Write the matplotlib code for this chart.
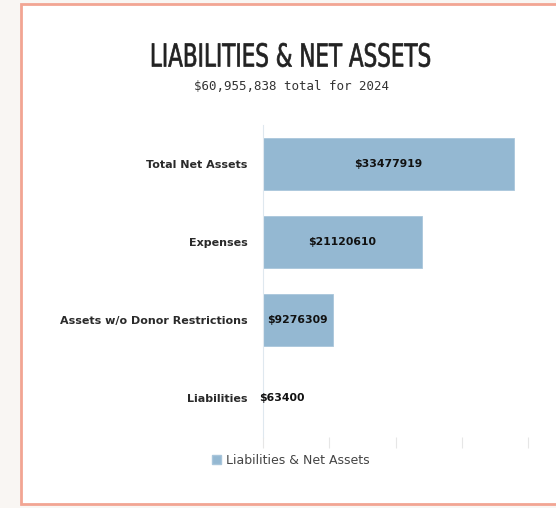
import matplotlib.pyplot as plt
from matplotlib.patches import Rectangle, Patch, PathPatch
from matplotlib.textpath import TextPath
from matplotlib.font_manager import FontProperties
from matplotlib.transforms import Affine2D

# donnees
categories = ["Total Net Assets", "Expenses", "Assets w/o Donor Restrictions", "Liabilities"]
values = [33477919, 21120610, 9276309, 63400]
bar_labels = ["$33477919", "$21120610", "$9276309", "$63400"]
title = "LIABILITIES & NET ASSETS"
subtitle = "$60,955,838 total for 2024"
legend_label = "Liabilities & Net Assets"

bar_color = "#94b8d2"
W, H = 556, 508

fig = plt.figure(figsize=(W / 100, H / 100), dpi=100)
fig.patch.set_facecolor("#f9f6f3")

# carte blanche avec bordure saumon
card = Rectangle((21 / W, 4 / H), 600 / W, 500 / H, transform=fig.transFigure,
                 facecolor="white", edgecolor="#f2a593", linewidth=2, zorder=-5)
fig.patches.append(card)

ax = fig.add_axes([263 / W, 1 - 437 / H, 265 / W, 312 / H])
ax.set_facecolor("none")

ypos = list(range(len(categories)))
ax.barh(ypos, values, height=0.67, color=bar_color, edgecolor="#a9c6db", linewidth=0.6)
ax.set_ylim(len(categories) - 0.5, -0.5)
ax.set_xlim(0, 35.3e6)

ax.set_yticks(ypos)
ax.set_yticklabels(categories, fontsize=8, fontweight="bold", color="#2a2a2a")
ax.tick_params(axis="y", length=0, pad=11)
ax.set_xticks([i * 35.3e6 / 4 for i in range(5)])
ax.set_xticklabels([])
ax.tick_params(axis="x", length=8, color="#e6e6e6", width=0.8)

for s in ["top", "right", "bottom"]:
    ax.spines[s].set_visible(False)
ax.spines["left"].set_color("#dfe8ef")

for i, (v, lab) in enumerate(zip(values, bar_labels)):
    if v > 2e6:
        ax.text(v / 2, i, lab, ha="center", va="center", fontsize=7.8,
                fontweight="bold", color="#111111")
    else:
        ax.annotate(lab, (v, i), xytext=(-3, 0), textcoords="offset points",
                    ha="left", va="center", fontsize=7.8, fontweight="bold", color="#111111")

# titre condense : chemin de texte compresse horizontalement
tp = TextPath((0, 0), title, size=1, prop=FontProperties(family="DejaVu Sans"))
ext = tp.get_extents()
tr = (Affine2D().translate(-ext.x0, -ext.y0)
      .scale(278 / ext.width, 24 / ext.height)
      .translate(152, H - 67)
      .scale(1 / W, 1 / H)) + fig.transFigure
fig.patches.append(PathPatch(tp, transform=tr, facecolor="#222222", edgecolor="#222222",
                             linewidth=0.5))

fig.text(291 / W, 1 - 87 / H, subtitle, ha="center", va="center", fontsize=9,
         family="DejaVu Sans Mono", color="#333333")

fig.legend(handles=[Patch(facecolor=bar_color, edgecolor="#a9c6db", label=legend_label)],
           loc="center", bbox_to_anchor=(291 / W, 1 - 460 / H), frameon=False,
           fontsize=9, handlelength=0.75, handleheight=0.75, handletextpad=0.4,
           labelcolor="#444444")

fig.savefig("out.png", dpi=100, facecolor=fig.get_facecolor())
